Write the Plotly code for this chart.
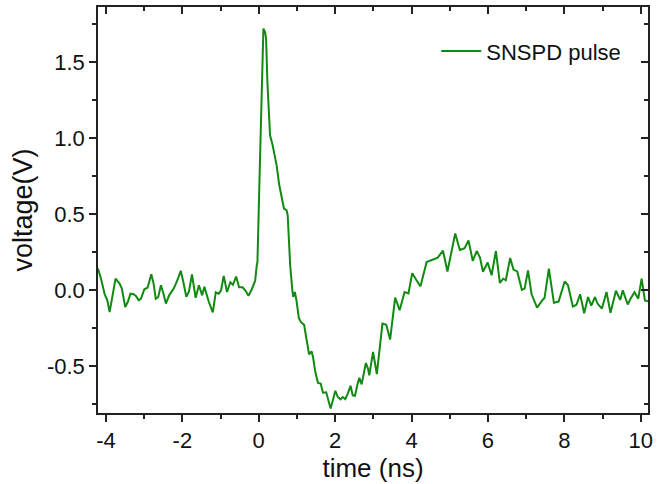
import plotly.graph_objects as go

# time (ns) and voltage (V)
time_ns = [
    -4.208, -4.119, -4.034, -3.964, -3.904, -3.818, -3.748, -3.644, -3.584, -3.496,
    -3.429, -3.358, -3.273, -3.210, -3.143, -3.081, -2.995, -2.909, -2.813, -2.753,
    -2.696, -2.631, -2.561, -2.494, -2.431, -2.345, -2.286, -2.216, -2.130, -2.042,
    -1.974, -1.896, -1.826, -1.748, -1.652, -1.566, -1.481, -1.423, -1.306, -1.203,
    -1.125, -1.047, -0.987, -0.917, -0.831, -0.743, -0.675, -0.592, -0.514, -0.423,
    -0.345, -0.268, -0.182, -0.094, -0.052, -0.034, 0.018, 0.078, 0.122, 0.166,
    0.192, 0.226, 0.296, 0.364, 0.468, 0.538, 0.623, 0.660, 0.727, 0.758,
    0.784, 0.823, 0.875, 0.901, 0.945, 0.987, 1.049, 1.101, 1.187, 1.247,
    1.317, 1.382, 1.421, 1.481, 1.551, 1.621, 1.681, 1.766, 1.810, 1.881,
    1.940, 2.005, 2.070, 2.140, 2.200, 2.265, 2.330, 2.403, 2.460, 2.519,
    2.590, 2.634, 2.694, 2.745, 2.805, 2.862, 2.894, 2.992, 3.091, 3.239,
    3.338, 3.439, 3.571, 3.688, 3.818, 3.919, 4.018, 4.130, 4.234, 4.395,
    4.512, 4.686, 4.823, 4.940, 5.143, 5.265, 5.390, 5.491, 5.603, 5.706,
    5.792, 5.870, 5.992, 6.096, 6.208, 6.312, 6.400, 6.468, 6.582, 6.668,
    6.766, 6.888, 6.961, 7.049, 7.143, 7.286, 7.429, 7.481, 7.595, 7.727,
    7.849, 8.010, 8.096, 8.223, 8.317, 8.413, 8.519, 8.621, 8.706, 8.803,
    8.868, 8.984, 9.104, 9.208, 9.351, 9.462, 9.530, 9.660, 9.732, 9.836,
    9.935, 10.023, 10.109, 10.192,
]
voltage_v = [
    0.143, 0.066, -0.026, -0.066, -0.143, -0.022, 0.077, 0.044, 0.011, -0.110,
    -0.077, -0.022, -0.026, -0.039, -0.066, -0.055, 0.007, 0.018, 0.105, 0.044,
    -0.055, -0.044, 0.033, -0.022, -0.087, -0.033, -0.011, 0.016, 0.066, 0.128,
    0.055, -0.043, -0.007, 0.105, -0.049, 0.033, -0.033, 0.023, -0.077, -0.145,
    -0.013, -0.023, 0.000, 0.095, -0.011, 0.053, 0.036, 0.090, 0.020, 0.020,
    -0.003, -0.036, 0.007, 0.062, 0.164, 0.186, 0.712, 1.369, 1.719, 1.697,
    1.654, 1.369, 1.018, 0.953, 0.821, 0.690, 0.591, 0.537, 0.526, 0.493,
    0.361, 0.164, 0.013, -0.044, -0.011, -0.066, -0.181, -0.208, -0.227, -0.307,
    -0.420, -0.401, -0.438, -0.537, -0.608, -0.613, -0.673, -0.670, -0.712, -0.777,
    -0.723, -0.660, -0.701, -0.716, -0.701, -0.715, -0.679, -0.627, -0.690, -0.693,
    -0.613, -0.575, -0.618, -0.547, -0.478, -0.516, -0.558, -0.405, -0.550, -0.219,
    -0.227, -0.324, -0.048, -0.131, -0.011, -0.020, 0.112, 0.066, 0.026, 0.186,
    0.199, 0.215, 0.260, 0.124, 0.373, 0.265, 0.276, 0.327, 0.193, 0.258,
    0.215, 0.122, 0.183, 0.099, 0.258, 0.049, 0.076, 0.066, 0.212, 0.136,
    0.124, 0.003, 0.011, 0.131, -0.026, -0.114, -0.063, -0.051, 0.143, -0.082,
    -0.074, 0.058, 0.033, -0.107, -0.095, -0.026, -0.151, -0.044, -0.101, -0.044,
    -0.087, -0.120, -0.011, -0.148, -0.003, -0.063, 0.000, -0.093, -0.055, -0.013,
    -0.055, 0.077, -0.066, -0.072,
]

x_tick_vals = [-4, -2, 0, 2, 4, 6, 8, 10]
x_tick_text = ["-4", "-2", "0", "2", "4", "6", "8", "10"]
y_tick_vals = [-0.5, 0.0, 0.5, 1.0, 1.5]
y_tick_text = ["-0.5", "0.0", "0.5", "1.0", "1.5"]
x_range = [-4.208, 10.19]
y_range = [-0.806, 1.861]

FONT = "Liberation Sans, Arial, sans-serif"
AX = "#222222"

fig = go.Figure()
fig.add_trace(go.Scatter(
    x=time_ns, y=voltage_v, mode="lines", name="SNSPD pulse",
    line=dict(color="#108a10", width=2),
))
# invisible copy on the mirrored axes so the top/right frame with inward ticks is drawn
fig.add_trace(go.Scatter(
    x=time_ns, y=voltage_v, mode="lines", xaxis="x2", yaxis="y2",
    line=dict(color="rgba(0,0,0,0)", width=0), showlegend=False, hoverinfo="skip",
))

common = dict(showgrid=False, zeroline=False, linecolor=AX, linewidth=1.5,
              tickcolor=AX, tickwidth=1.5, ticklen=7)

fig.update_layout(
    width=660, height=484,
    margin=dict(l=98, r=7, t=7, b=71),
    paper_bgcolor="white", plot_bgcolor="white",
    font=dict(family=FONT, color="#111111", size=22),
    showlegend=True,
    legend=dict(x=0.615, y=0.943, xanchor="left", yanchor="top",
                bgcolor="rgba(0,0,0,0)", font=dict(size=22, family=FONT),
                itemwidth=40),
    xaxis=dict(range=x_range, tickmode="array", tickvals=x_tick_vals, ticktext=x_tick_text,
               ticks="outside", tickfont=dict(size=22),
               minor=dict(dtick=1, tick0=-5, ticks="outside", ticklen=4, tickwidth=1.5, tickcolor=AX),
               title=dict(text="time (ns)", font=dict(size=26), standoff=6),
               mirror=False, **common),
    yaxis=dict(range=y_range, tickmode="array", tickvals=y_tick_vals, ticktext=y_tick_text,
               ticks="outside", tickfont=dict(size=22),
               minor=dict(dtick=0.25, tick0=-0.75, ticks="outside", ticklen=4, tickwidth=1.5, tickcolor=AX),
               title=dict(text="voltage(V)", font=dict(size=27), standoff=6),
               mirror=False, **common),
    xaxis2=dict(range=x_range, overlaying="x", side="top", anchor="y2",
                tickmode="array", tickvals=x_tick_vals, showticklabels=False, ticks="inside",
                minor=dict(dtick=1, tick0=-5, ticks="inside", ticklen=4, tickwidth=1.5, tickcolor=AX),
                **common),
    yaxis2=dict(range=y_range, overlaying="y", side="right", anchor="x2",
                tickmode="array", tickvals=y_tick_vals, showticklabels=False, ticks="inside",
                minor=dict(dtick=0.25, tick0=-0.75, ticks="inside", ticklen=4, tickwidth=1.5, tickcolor=AX),
                **common),
)

fig.write_html("out.html")
